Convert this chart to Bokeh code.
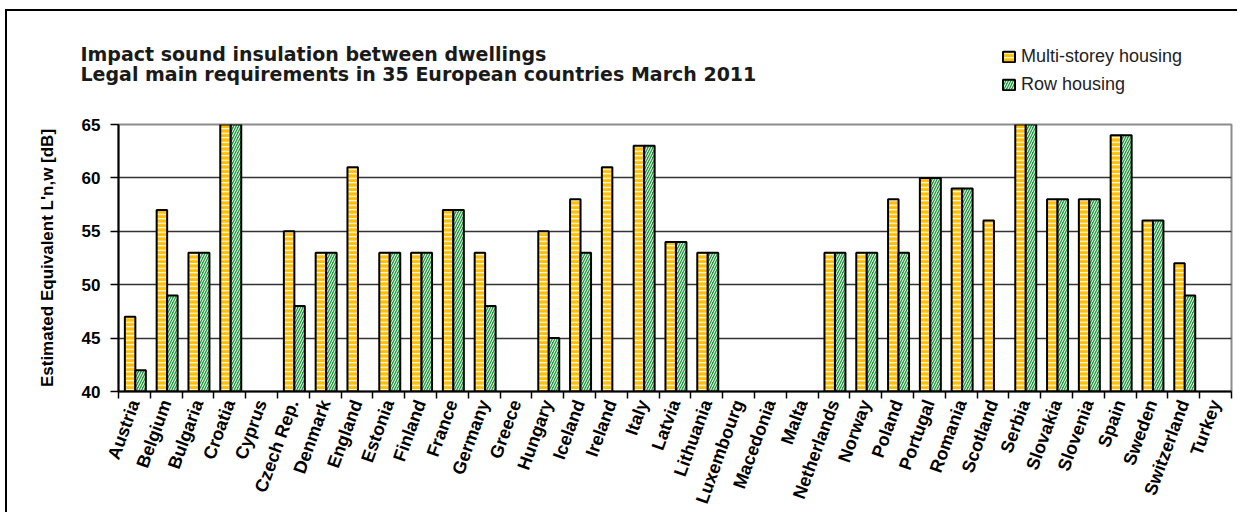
import math
from bokeh.plotting import figure
from bokeh.layouts import column
from bokeh.models import ColumnDataSource, Range1d, FixedTicker, Legend, LegendItem, Label
from bokeh.transform import dodge
from bokeh.embed import file_html
from bokeh.resources import INLINE

countries = ["Austria", "Belgium", "Bulgaria", "Croatia", "Cyprus", "Czech Rep.", "Denmark",
             "England", "Estonia", "Finland", "France", "Germany", "Greece", "Hungary",
             "Iceland", "Ireland", "Italy", "Latvia", "Lithuania", "Luxembourg", "Macedonia",
             "Malta", "Netherlands", "Norway", "Poland", "Portugal", "Romania", "Scotland",
             "Serbia", "Slovakia", "Slovenia", "Spain", "Sweden", "Switzerland", "Turkey"]
multi_storey = [47, 57, 53, 68, None, 55, 53, 61, 53, 53, 57, 53, None, 55, 58, 61, 63, 54,
                53, None, None, None, 53, 53, 58, 60, 59, 56, 68, 58, 58, 64, 56, 52, None]
row_housing = [42, 49, 53, 68, None, 48, 53, None, 53, 53, 57, 48, None, 45, 53, None, 63, 54,
               53, None, None, None, 53, 53, 53, 60, 59, None, 68, 58, 58, 64, 56, 49, None]
y_ticks = [40, 45, 50, 55, 60, 65]
series_names = ["Multi-storey housing", "Row housing"]
title_lines = ["Impact sound insulation between dwellings",
               "Legal main requirements in 35 European countries March 2011"]
y_label = "Estimated Equivalent L'n,w [dB]"

n = len(countries)
W = 1230
HEAD_H = 101

multi_style = dict(fill_color="#FFBE00", line_color="black", line_width=2,
                   hatch_pattern="horizontal_line", hatch_color="white",
                   hatch_scale=4.5, hatch_weight=1.2)
row_style = dict(fill_color="#229A40", line_color="black", line_width=2,
                 hatch_pattern="right_diagonal_line", hatch_color="white",
                 hatch_scale=5, hatch_weight=1.0)


def make_source(vals):
    idx = [i for i, v in enumerate(vals) if v is not None]
    return ColumnDataSource(dict(x=idx, top=[vals[i] for i in idx],
                                 country=[countries[i] for i in idx]))


src_multi = make_source(multi_storey)
src_row = make_source(row_housing)

# ---- header: chart title and legend ----
head = figure(width=W, height=HEAD_H, x_range=Range1d(0, W), y_range=Range1d(0, HEAD_H),
              x_axis_location=None, y_axis_location=None,
              output_backend="svg", toolbar_location=None,
              min_border=0, min_border_left=0, min_border_right=0,
              min_border_top=0, min_border_bottom=0, outline_line_color=None,
              background_fill_color="white", border_fill_color="white")
head.frame_align = False
head.xgrid.visible = False
head.ygrid.visible = False
head.title.visible = False

for line, vy in zip(title_lines, [59, 38.8]):
    head.add_layout(Label(x=73, y=vy, x_units="screen", y_units="screen", text=line,
                          text_font="DejaVu Sans", text_font_style="bold",
                          text_font_size="19px", text_color="#1a1a1a",
                          text_baseline="alphabetic", text_align="left"))

# legend keys (renderers hidden in the header, same data and style as the chart bars)
k1 = head.vbar(x="x", top="top", width=0.33, source=src_multi, visible=False, **multi_style)
k2 = head.vbar(x="x", top="top", width=0.33, source=src_row, visible=False, **row_style)
legend = Legend(items=[LegendItem(label=series_names[0], renderers=[k1]),
                       LegendItem(label=series_names[1], renderers=[k2])],
                location=(994, 17), orientation="vertical",
                glyph_width=15, glyph_height=13, label_standoff=5, spacing=7,
                padding=0, margin=0, label_height=20,
                label_text_font="Liberation Sans", label_text_font_size="18px",
                label_text_color="#222222", inactive_fill_alpha=0,
                border_line_alpha=0, background_fill_alpha=0)
head.add_layout(legend)

# ---- main chart ----
p = figure(frame_width=1113, frame_height=267, x_range=Range1d(-0.5, n - 0.5),
           y_range=Range1d(y_ticks[0], y_ticks[-1]),
           output_backend="svg", toolbar_location=None,
           min_border_left=111, min_border_top=12, min_border_right=6, min_border_bottom=10,
           background_fill_color="white", border_fill_color="white")
p.frame_align = False
p.title.visible = False

p.vbar(x=dodge("x", -0.135, range=p.x_range), top="top", width=0.33,
       source=src_multi, **multi_style)
p.vbar(x=dodge("x", 0.195, range=p.x_range), top="top", width=0.33,
       source=src_row, **row_style)

xa = p.xaxis[0]
xa.ticker = FixedTicker(ticks=list(range(n)), minor_ticks=[i - 0.5 for i in range(n + 1)])
xa.major_label_overrides = {i: c for i, c in enumerate(countries)}
xa.major_label_orientation = math.radians(70)
xa.major_tick_out = 0
xa.major_tick_in = 0
xa.minor_tick_out = 7
xa.minor_tick_in = 0
xa.minor_tick_line_color = "black"
xa.minor_tick_line_width = 1.5
xa.axis_line_color = "black"
xa.axis_line_width = 2
xa.major_label_text_font = "Liberation Sans"
xa.major_label_text_font_style = "bold"
xa.major_label_text_font_size = "18px"
xa.major_label_text_color = "black"
xa.major_label_standoff = 2

ya = p.yaxis[0]
ya.ticker = FixedTicker(ticks=y_ticks)
ya.minor_tick_line_color = None
ya.major_tick_out = 8
ya.major_tick_in = 0
ya.major_tick_line_color = "black"
ya.major_tick_line_width = 1.5
ya.axis_line_color = "black"
ya.axis_line_width = 2
ya.major_label_text_font = "Liberation Sans"
ya.major_label_text_font_style = "bold"
ya.major_label_text_font_size = "17px"
ya.major_label_text_color = "black"
ya.major_label_standoff = 10
ya.axis_label = y_label
ya.axis_label_text_font = "Liberation Sans"
ya.axis_label_text_font_style = "bold"
ya.axis_label_text_font_size = "17px"
ya.axis_label_text_color = "black"
ya.axis_label_standoff = 22

p.xgrid.grid_line_color = None
p.ygrid.grid_line_color = "#333333"
p.ygrid.grid_line_width = 1.3
p.outline_line_color = "#8c8c8c"
p.outline_line_width = 2

page = column(head, p, spacing=0)
page.styles = {"margin-left": "5px", "margin-top": "9px",
               "border-left": "2px solid black", "border-top": "2px solid black"}

open("out.html", "w").write(file_html(page, INLINE))
